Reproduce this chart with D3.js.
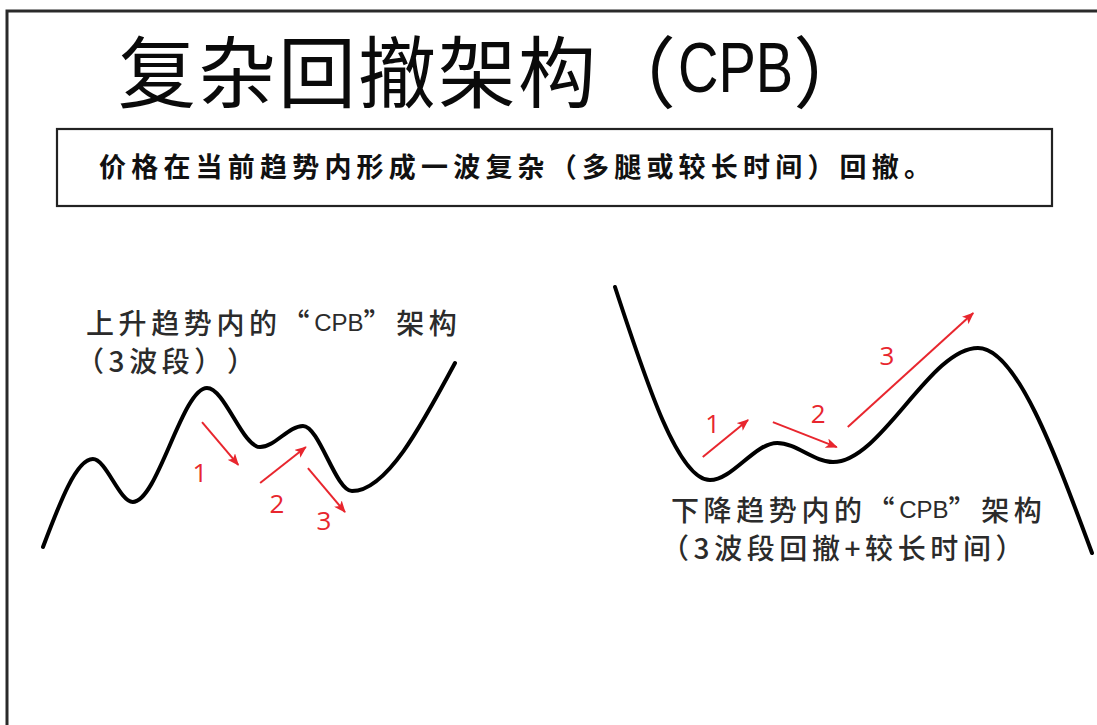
<!DOCTYPE html>
<html><head><meta charset="utf-8">
<script src="https://cdn.jsdelivr.net/npm/d3@7"></script>
<style>html,body{margin:0;padding:0;background:#fff;}svg{display:block}
svg text{text-spacing-trim:space-all;}</style>
</head><body>
<svg id="c" width="1097" height="725"></svg>
<script>
// ---- text content ----
const titleMain = "复杂回撤架构";
const titleOpen = "（";
const titleAbbr = "CPB";
const titleClose = "）";
const definition = "价格在当前趋势内形成一波复杂（多腿或较长时间）回撤。";
const upLabel1 = ["上升趋势内的“", "CPB", "”架构"];
const upLabel2 = "（3波段））";
const downLabel1 = ["下降趋势内的“", "CPB", "”架构"];
const downLabel2 = "（3波段回撤+较长时间）";

// ---- curve data (time, price in panel units 0..10) ----
const upTime  = [0, 1.21, 2.18, 3.98, 5.27, 6.31, 7.50, 10];
const upPrice = [0, 4.78, 2.45, 8.64, 5.43, 6.58, 3.04, 10];
const downTime  = [0, 1.99, 3.40, 4.57, 7.61, 10];
const downPrice = [10, 2.74, 4.14, 3.42, 7.71, 0];

// ---- pullback legs (arrows) ----
const legNames = ["1", "2", "3"];
const upLegFrom  = [[3.86, 6.79], [5.27, 3.48], [6.43, 4.29]];
const upLegTo    = [[4.74, 4.46], [6.38, 5.43], [7.33, 1.90]];
const upLegLabel = [[3.81, 4.08], [5.68, 2.39], [6.82, 1.47]];
const downLegFrom  = [[1.84, 3.61], [3.31, 4.92], [4.88, 4.74]];
const downLegTo    = [[2.79, 5.00], [4.65, 3.98], [7.51, 9.02]];
const downLegLabel = [[2.05, 4.89], [4.26, 5.26], [5.70, 7.44]];

const CJK = "'Noto Sans CJK SC','Noto Sans',sans-serif";
const LAT = "'Liberation Sans',Arial,sans-serif";
const RED = "#e8262e";

const svg = d3.select("#c");
svg.append("rect").attr("width", 1097).attr("height", 725).attr("fill", "#fff");

// outer frame (top + left)
svg.append("path").attr("d", "M7,725 L7,11 L1097,11")
  .attr("fill", "none").attr("stroke", "#2a2a2a").attr("stroke-width", 3);

// helper: draw a run of text segments left to right
function run(parent, x, y, segs) {
  let cx = x;
  segs.forEach(s => {
    const sx = s.sx || 1;
    const t = parent.append("text")
      .attr("transform", `translate(${cx},${y}) scale(${sx},1)`)
      .attr("dominant-baseline", "central")
      .style("font-family", s.font || CJK)
      .style("font-size", s.size + "px")
      .style("font-weight", s.weight || 400)
      .style("letter-spacing", (s.ls || 0) + "px")
      .attr("fill", s.fill || "#111")
      .text(s.text);
    cx += t.node().getComputedTextLength() * sx + (s.gap || 0);
  });
  return cx;
}

// title
run(svg, 118, 68, [
  {text: titleMain + titleOpen, size: 78, ls: 2, fill: "#0a0a0a", gap: 0},
  {text: titleAbbr, font: LAT, size: 70, sx: 0.8, fill: "#0a0a0a", gap: 0},
  {text: titleClose, size: 78, fill: "#0a0a0a"}
]);

// definition box
svg.append("rect").attr("x", 57).attr("y", 129).attr("width", 995).attr("height", 77)
  .attr("fill", "none").attr("stroke", "#222").attr("stroke-width", 2.2);
run(svg, 99, 165, [{text: definition, size: 27, weight: 700, ls: 5.2, fill: "#111"}]);

// arrow marker
const defs = svg.append("defs");
defs.append("marker").attr("id", "ah")
  .attr("markerUnits", "userSpaceOnUse")
  .attr("viewBox", "0 0 12 10").attr("refX", 11).attr("refY", 5)
  .attr("markerWidth", 12).attr("markerHeight", 10).attr("orient", "auto")
  .append("path").attr("d", "M0,0 L12,5 L0,10 L3,5 Z").attr("fill", RED);

function panel(times, prices, xr, yr, legFrom, legTo, legLabel) {
  const x = d3.scaleLinear().domain([0, 10]).range(xr);
  const y = d3.scaleLinear().domain([0, 10]).range(yr);
  const pts = times.map((t, i) => [t, prices[i]]);
  const line = d3.line().x(d => x(d[0])).y(d => y(d[1])).curve(d3.curveMonotoneX);
  const g = svg.append("g");
  g.append("path").datum(pts).attr("d", line)
    .attr("fill", "none").attr("stroke", "#000").attr("stroke-width", 4)
    .attr("stroke-linecap", "round").attr("stroke-linejoin", "round");
  legNames.forEach((n, i) => {
    g.append("line")
      .attr("x1", x(legFrom[i][0])).attr("y1", y(legFrom[i][1]))
      .attr("x2", x(legTo[i][0])).attr("y2", y(legTo[i][1]))
      .attr("stroke", RED).attr("stroke-width", 2)
      .attr("marker-end", "url(#ah)");
    g.append("text")
      .attr("x", x(legLabel[i][0])).attr("y", y(legLabel[i][1]))
      .attr("text-anchor", "middle").attr("dominant-baseline", "central")
      .style("font-family", "'Open Sans','Liberation Sans',sans-serif")
      .style("font-size", "26px").style("font-weight", 500).attr("fill", RED).text(n);
  });
}

panel(upTime, upPrice, [43, 455], [547, 363], upLegFrom, upLegTo, upLegLabel);
panel(downTime, downPrice, [615, 1092], [553, 287], downLegFrom, downLegTo, downLegLabel);

// panel captions
const capStyle = {size: 28, ls: 4.6, fill: "#2b2b2b", weight: 500};
function caption(x, y, parts) {
  run(svg, x, y, [
    Object.assign({text: parts[0]}, capStyle),
    {text: parts[1], font: LAT, size: 24, fill: "#2b2b2b", gap: 0},
    Object.assign({text: parts[2]}, capStyle)
  ]);
}
caption(86, 322, upLabel1);
run(svg, 76, 360, [Object.assign({text: upLabel2}, capStyle)]);
caption(671, 509, downLabel1);
run(svg, 661, 547, [Object.assign({text: downLabel2}, capStyle)]);
</script>
</body></html>
